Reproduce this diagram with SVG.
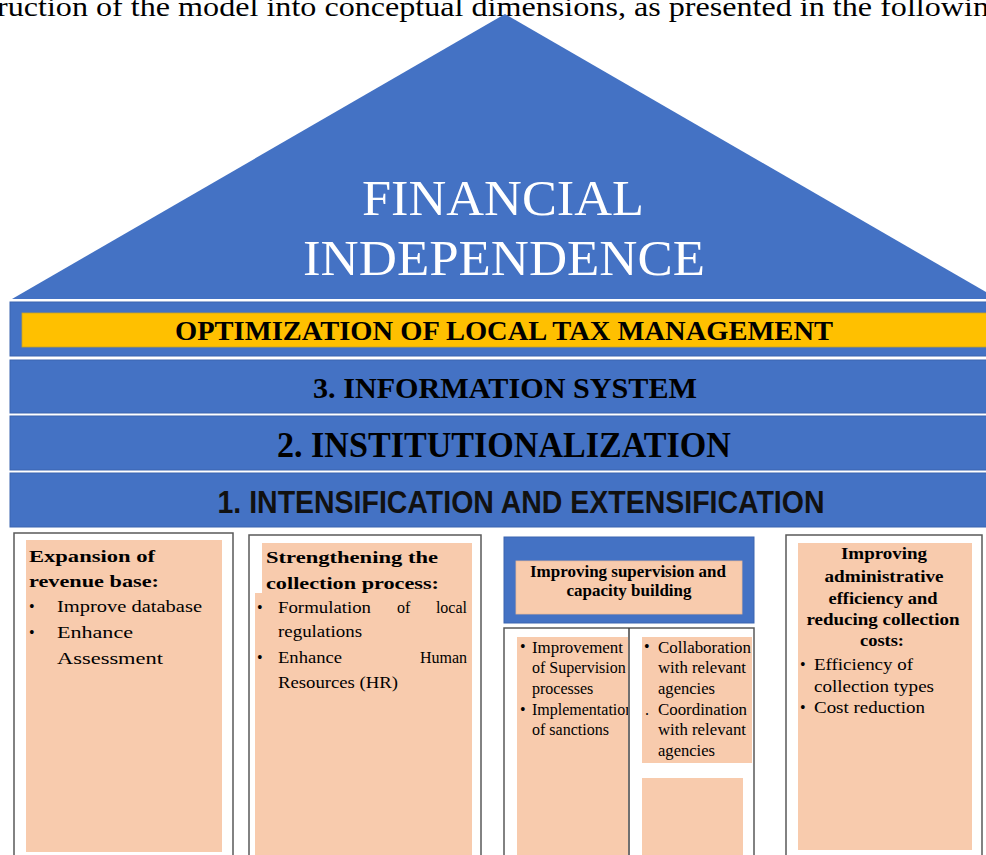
<svg xmlns="http://www.w3.org/2000/svg" width="986" height="855" viewBox="0 0 986 855">
<defs>
<style>
.blue{fill:#4472C4;stroke:#3A64B0;stroke-width:1}
.peach{fill:#F8CBAD}
.frame{fill:#FFFFFF;stroke:#595959;stroke-width:1.5}
.serif{font-family:"Liberation Serif","Times New Roman",serif}
.sans{font-family:"Liberation Sans",Arial,sans-serif}
.t{font-family:"Liberation Serif","Times New Roman",serif;font-size:16px;fill:#000}
.b{font-weight:bold}
</style>
<clipPath id="clipL"><rect x="517" y="630" width="111" height="225"/></clipPath>
</defs>
<rect width="986" height="855" fill="#FFFFFF"/>
<text x="-3" y="16" class="serif" font-size="27" textLength="992" lengthAdjust="spacingAndGlyphs" fill="#000">ruction of the model into conceptual dimensions, as presented in the followin</text>

<g id="roof">
<polygon points="12,299 505,14 998,299" fill="#4472C4"/>
<text x="503" y="215" class="serif" font-size="50" fill="#FFFFFF" text-anchor="middle" textLength="282" lengthAdjust="spacingAndGlyphs">FINANCIAL</text>
<text x="504" y="275" class="serif" font-size="50" fill="#FFFFFF" text-anchor="middle" textLength="402" lengthAdjust="spacingAndGlyphs">INDEPENDENCE</text>
</g>

<g id="band-optimization">
<rect x="10" y="302" width="990" height="54" class="blue"/>
<rect x="22" y="313" width="980" height="34" fill="#FFC000" stroke="#C9A227" stroke-width="0.8"/>
<text x="504" y="340" class="serif b" font-size="27" text-anchor="middle" textLength="658" lengthAdjust="spacingAndGlyphs">OPTIMIZATION OF LOCAL TAX MANAGEMENT</text>
</g>

<g id="band-information">
<rect x="10" y="360" width="990" height="53" class="blue"/>
<text x="505" y="398" class="serif b" font-size="30" text-anchor="middle" textLength="384" lengthAdjust="spacingAndGlyphs">3. INFORMATION SYSTEM</text>
</g>

<g id="band-institutionalization">
<rect x="10" y="416" width="990" height="54" class="blue"/>
<text x="504" y="457" class="serif b" font-size="35" text-anchor="middle" textLength="454" lengthAdjust="spacingAndGlyphs">2. INSTITUTIONALIZATION</text>
</g>

<g id="band-intensification">
<rect x="10" y="473" width="990" height="54" class="blue"/>
<text x="521" y="513" class="sans b" font-size="31" text-anchor="middle" textLength="607" lengthAdjust="spacingAndGlyphs" fill="#111">1. INTENSIFICATION AND EXTENSIFICATION</text>
</g>

<g id="box-revenue">
<rect x="14" y="533" width="219" height="330" class="frame"/>
<rect x="26" y="540" width="196" height="312" class="peach"/>
<text x="29" y="562" class="t b" font-size="20" textLength="126" lengthAdjust="spacingAndGlyphs">Expansion of</text>
<text x="29" y="587" class="t b" font-size="20" textLength="130" lengthAdjust="spacingAndGlyphs">revenue base:</text>
<text x="29" y="612" class="t" font-size="19">•</text>
<text x="57" y="612" class="t" font-size="19" textLength="145" lengthAdjust="spacingAndGlyphs">Improve database</text>
<text x="29" y="638" class="t" font-size="19">•</text>
<text x="57" y="638" class="t" font-size="19" textLength="76" lengthAdjust="spacingAndGlyphs">Enhance</text>
<text x="57" y="664" class="t" font-size="19" textLength="106" lengthAdjust="spacingAndGlyphs">Assessment</text>
</g>

<g id="box-collection">
<rect x="249" y="535" width="232" height="330" class="frame"/>
<rect x="262" y="543" width="210" height="312" class="peach"/>
<rect x="255" y="593" width="10" height="262" class="peach"/>
<text x="266" y="563" class="t b" font-size="19" textLength="172" lengthAdjust="spacingAndGlyphs">Strengthening the</text>
<text x="266" y="589" class="t b" font-size="19" textLength="173" lengthAdjust="spacingAndGlyphs">collection process:</text>
<text x="257" y="613" class="t">•</text>
<text x="278" y="613" class="t" font-size="17" textLength="93" lengthAdjust="spacingAndGlyphs">Formulation</text>
<text x="397" y="613" class="t" font-size="17">of</text>
<text x="467" y="613" class="t" font-size="17" text-anchor="end">local</text>
<text x="278" y="637" class="t" font-size="17" textLength="84" lengthAdjust="spacingAndGlyphs">regulations</text>
<text x="257" y="663" class="t">•</text>
<text x="278" y="663" class="t" font-size="17" textLength="64" lengthAdjust="spacingAndGlyphs">Enhance</text>
<text x="467" y="663" class="t" font-size="17" text-anchor="end">Human</text>
<text x="278" y="688" class="t" font-size="17" textLength="120" lengthAdjust="spacingAndGlyphs">Resources (HR)</text>
</g>

<g id="box-supervision">
<rect x="504" y="537" width="250" height="86" class="blue"/>
<rect x="516" y="561" width="226" height="53" class="peach" stroke="#E8B898" stroke-width="0.8"/>
<text x="628" y="577" class="t b" font-size="15" text-anchor="middle" textLength="196" lengthAdjust="spacingAndGlyphs">Improving supervision and</text>
<text x="629" y="596" class="t b" font-size="15" text-anchor="middle" textLength="125" lengthAdjust="spacingAndGlyphs">capacity building</text>
<rect x="504" y="628" width="250" height="240" class="frame"/>
<line x1="629" y1="628" x2="629" y2="855" stroke="#404040" stroke-width="1.5"/>
<rect x="517" y="637" width="111" height="218" class="peach"/>
<rect x="642" y="637" width="110" height="126" class="peach"/>
<rect x="642" y="778" width="101" height="77" class="peach"/>
<g clip-path="url(#clipL)">
<text x="520" y="652" class="t" font-size="12">•</text>
<text x="532" y="653" class="t" textLength="91" lengthAdjust="spacingAndGlyphs">Improvement</text>
<text x="532" y="673" class="t">of Supervision</text>
<text x="532" y="694" class="t">processes</text>
<text x="520" y="715" class="t" font-size="12">•</text>
<text x="532" y="715" class="t">Implementation</text>
<text x="532" y="735" class="t">of sanctions</text>
</g>
<text x="644" y="652" class="t" font-size="12">•</text>
<text x="658" y="653" class="t" textLength="93" lengthAdjust="spacingAndGlyphs">Collaboration</text>
<text x="658" y="673" class="t" textLength="88" lengthAdjust="spacingAndGlyphs">with relevant</text>
<text x="658" y="694" class="t" textLength="57" lengthAdjust="spacingAndGlyphs">agencies</text>
<text x="645" y="715" class="t" font-size="12">.</text>
<text x="658" y="715" class="t" textLength="89" lengthAdjust="spacingAndGlyphs">Coordination</text>
<text x="658" y="735" class="t" textLength="88" lengthAdjust="spacingAndGlyphs">with relevant</text>
<text x="658" y="756" class="t" textLength="57" lengthAdjust="spacingAndGlyphs">agencies</text>
</g>

<g id="box-efficiency">
<rect x="786" y="535" width="196" height="330" class="frame"/>
<rect x="798" y="543" width="174" height="307" class="peach"/>
<text x="884" y="559" class="t b" text-anchor="middle" textLength="86" lengthAdjust="spacingAndGlyphs">Improving</text>
<text x="884" y="582" class="t b" text-anchor="middle" textLength="119" lengthAdjust="spacingAndGlyphs">administrative</text>
<text x="883" y="604" class="t b" text-anchor="middle" textLength="109" lengthAdjust="spacingAndGlyphs">efficiency and</text>
<text x="883" y="625" class="t b" text-anchor="middle" textLength="153" lengthAdjust="spacingAndGlyphs">reducing collection</text>
<text x="882" y="646" class="t b" text-anchor="middle" textLength="44" lengthAdjust="spacingAndGlyphs">costs:</text>
<text x="800" y="670" class="t">•</text>
<text x="814" y="670" class="t" textLength="99" lengthAdjust="spacingAndGlyphs">Efficiency of</text>
<text x="814" y="692" class="t" textLength="120" lengthAdjust="spacingAndGlyphs">collection types</text>
<text x="800" y="713" class="t">•</text>
<text x="814" y="713" class="t" textLength="111" lengthAdjust="spacingAndGlyphs">Cost reduction</text>
</g>
</svg>
